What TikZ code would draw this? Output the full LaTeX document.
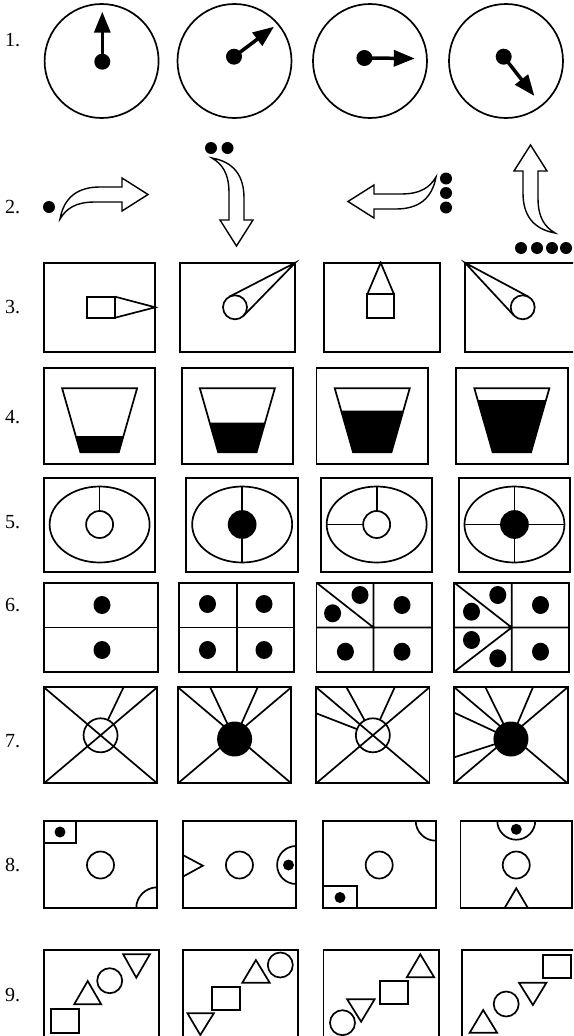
\documentclass[tikz,border=0pt]{standalone}
\usepackage{fontspec}
\setmainfont{Liberation Serif}
\usetikzlibrary{arrows.meta}
\newcommand{\bentarr}[3]{%
  \begin{scope}[shift={(#1,#2)},rotate=#3]
    \draw[line width=1.4pt,fill=white,line join=miter]
      (0,0) .. controls (4,-22) and (18,-32) .. (40,-32) -- (62,-32) -- (62,-41)
      -- (88,-24.5) -- (62,-8) -- (62,-17) -- (35,-17)
      .. controls (15,-17) and (6,-10) .. (0,0) -- cycle;
  \end{scope}}
\newcommand{\mycup}[2]{%
  \pgfmathsetmacro{\hw}{19.2+0.286*(452.3-#2)}%
  \fill (#1-\hw,#2) -- (#1+\hw,#2) -- (#1+19.2,452.3) -- (#1-19.2,452.3) -- cycle;
  \draw[shp] (#1-37.5,388.3) -- (#1+37.5,388.3) -- (#1+19.2,452.3) -- (#1-19.2,452.3) -- cycle;}
\begin{document}
\begin{tikzpicture}[x=1pt,y=-1pt,
  lbl/.style={anchor=west,inner sep=0pt,font=\fontsize{20}{20}\selectfont},
  frame/.style={draw,line width=1.9pt},
  shp/.style={draw,line width=1.7pt},
  hand/.style={line width=3.5pt,-{Triangle[length=21pt,width=16pt]}},
  bdot/.style={fill=black}]
\useasboundingbox (0,0) rectangle (573,1036);
\clip (0,0) rectangle (573,1036);
% labels
\node[lbl] (l1) at (5,40) {1.};
\node[lbl] (l2) at (5,207.5) {2.};
\node[lbl] (l3) at (5,307.5) {3.};
\node[lbl] (l4) at (5,417.5) {4.};
\node[lbl] (l5) at (5,522.5) {5.};
\node[lbl] (l6) at (5,605.5) {6.};
\node[lbl] (l7) at (5,741.5) {7.};
\node[lbl] (l8) at (5,865) {8.};
\node[lbl] (l9) at (5,995) {9.};
% row 1
\foreach \cx in {101.6,234.5,370,506} \draw[shp] (\cx,61) circle[radius=57pt];
\coordinate (h1) at (102.3,61.7); \coordinate (t1) at (102.3,11.7);
\coordinate (h2) at (234,56.7);   \coordinate (t2) at (274,26.7);
\coordinate (h3) at (364.4,58);   \coordinate (t3) at (414.8,58.5);
\coordinate (h4) at (503.7,56.7); \coordinate (t4) at (534.4,96);
\foreach \i in {1,2,3,4} {\fill (h\i) circle[radius=8pt]; \draw[hand] (h\i) -- (t\i);}
% row 2
\fill (49,207) circle[radius=6pt];
\bentarr{60}{219}{0}
\fill (211,148) circle[radius=6pt]; \fill (227.5,148) circle[radius=6pt];
\bentarr{212}{158}{-90}
\foreach \y in {178.5,193,207.5} \fill (446,\y) circle[radius=6pt];
\bentarr{436}{177}{180}
\foreach \x in {521,537,552,566} \fill (\x,248) circle[radius=6pt];
\bentarr{555}{233}{90}
% row 3
\draw[frame] (43.9,262.7) rectangle (155.3,351.7);
\draw[frame] (179.8,262.7) rectangle (295.3,351.7);
\draw[frame] (324.2,262.7) rectangle (439.7,351.7);
\draw[frame] (464.9,262.7) rectangle (580,351.7);
\draw[shp] (87,296.7) rectangle (115.1,317.7);
\draw[shp] (115.1,296.7) -- (155.3,307.3) -- (115.1,317.7);
\draw[shp] (235,307.3) circle[radius=12pt];
\draw[shp] (229.5,296.6) -- (295.3,262.7) -- (243.6,315.7);
\draw[shp] (367.3,294.3) rectangle (394,317.7);
\draw[shp] (367.3,294.3) -- (380.7,262.7) -- (394,294.3);
\draw[shp] (522.7,307.3) circle[radius=12pt];
\draw[shp] (528.4,296.7) -- (464.9,262.7) -- (513.9,315.5);
% row 4
\draw[frame] (43.9,367.7) rectangle (155.3,464.3);
\draw[frame] (181.6,367.7) rectangle (293.1,464.3);
\draw[frame] (316.5,367.7) rectangle (428,464.3);
\draw[frame] (456.1,367.7) rectangle (567.6,464.3);
\mycup{99.6}{436}
\mycup{237.35}{422.7}
\mycup{372.25}{410.7}
\mycup{511.85}{400}
% row 5
\draw[frame] (43.9,478.3) rectangle (155.3,572);
\draw[frame] (186.4,478.3) rectangle (297.9,572);
\draw[frame] (320.9,478.3) rectangle (432.4,572);
\draw[frame] (458.7,478.3) rectangle (570.2,572);
\foreach \cx in {99.6,242.15,376.65,514.45}
  \draw[shp] (\cx,524.5) ellipse[x radius=50pt,y radius=38pt];
\draw[shp] (99.6,511) -- (99.6,486.5);
\draw[shp] (99.6,524.5) circle[radius=13.5pt];
\draw[shp] (242.15,511) -- (242.15,486.5) (242.15,538) -- (242.15,562.5);
\draw[shp,fill=black] (242.15,524.5) circle[radius=13.5pt];
\draw[shp] (376.65,511) -- (376.65,486.5) (363.15,524.5) -- (326.65,524.5);
\draw[shp] (376.65,524.5) circle[radius=13.5pt];
\draw[shp] (514.45,511) -- (514.45,486.5) (514.45,538) -- (514.45,562.5)
  (500.95,524.5) -- (464.45,524.5) (527.95,524.5) -- (564.45,524.5);
\draw[shp,fill=black] (514.45,524.5) circle[radius=13.5pt];
% row 6
\draw[frame] (43.9,582.7) rectangle (158.3,671.7);
\draw[shp] (43.9,627.5) -- (158.3,627.5);
\draw[frame] (179.1,582.7) rectangle (294.2,671.7);
\draw[shp] (179.1,627.5) -- (294.2,627.5) (236.8,582.7) -- (236.8,671.7);
\draw[frame] (316.5,582.7) rectangle (432.4,671.7);
\draw[shp] (316.5,627.5) -- (432.4,627.5) (373.5,582.7) -- (373.5,671.7)
  (316.5,582.7) -- (373.5,627.5);
\draw[frame] (454.3,582.7) rectangle (569.4,671.7);
\draw[shp] (454.3,627.5) -- (569.4,627.5) (511.7,582.7) -- (511.7,671.7)
  (454.3,582.7) -- (511.7,627.5) -- (454.3,671.7);
\foreach \p in {(102,605),(102,650),(207.5,604),(264,604),(207.5,650),(264,650),
  (360,595),(332.6,613.3),(402,605),(345.4,651.7),(402,651.7),
  (497.8,595),(471.5,611.7),(471.5,640),(497.8,658.3),(540.5,605),(540.5,651.7)}
  \fill \p ellipse[x radius=8.5pt,y radius=9pt];
% row 7
\draw[frame] (43.9,687.3) rectangle (157.2,783.3);
\draw[shp] (123.5,687.3) -- (100.55,735.3);
\draw[shp,fill=white] (100.55,735.3) circle[radius=17pt];
\draw[shp] (43.9,687.3) -- (157.2,783.3) (43.9,783.3) -- (157.2,687.3);
\draw[frame] (178,687.3) rectangle (291.3,783.3);
\draw[shp] (178,687.3) -- (291.3,783.3) (178,783.3) -- (291.3,687.3)
  (210.2,687.3) -- (234.6,739) (257.7,687.3) -- (234.6,739);
\fill (234.6,739) circle[radius=17.5pt];
\draw[frame] (316.2,687.3) rectangle (429.5,783.3);
\draw[shp] (346.5,687.3) -- (372.85,735.3) (394.7,687.3) -- (372.85,735.3)
  (316.2,713.3) -- (372.85,735.3);
\draw[shp,fill=white] (372.85,735.3) circle[radius=17pt];
\draw[shp] (316.2,687.3) -- (429.5,783.3) (316.2,783.3) -- (429.5,687.3);
\draw[frame] (454.3,687.3) rectangle (567.6,783.3);
\draw[shp] (454.3,687.3) -- (567.6,783.3) (454.3,783.3) -- (567.6,687.3)
  (485.4,687.3) -- (510.95,739) (532.9,687.3) -- (510.95,739)
  (454.3,712.7) -- (510.95,739) (454.3,757.3) -- (510.95,739);
\fill (510.95,739) circle[radius=17.5pt];
% row 8
\draw[frame] (43.9,820.7) rectangle (157.2,908.3);
\draw[shp] (43.9,820.7) rectangle (76,843.3);
\fill (60,832) circle[radius=5.5pt];
\draw[shp] (100.5,865) circle[radius=13.5pt];
\draw[shp] (136.2,908.3) arc[start angle=180,end angle=90,radius=21pt];
\draw[frame] (182.8,820.7) rectangle (296.1,908.3);
\draw[shp] (182.8,855) -- (202.9,865.7) -- (182.8,876.7);
\draw[shp] (239.45,865) circle[radius=13.5pt];
\draw[shp] (296.1,846) arc[start angle=90,end angle=270,radius=19pt];
\fill (288.5,865) circle[radius=5.5pt];
\draw[frame] (322.7,820.7) rectangle (435.7,908.3);
\draw[shp] (415.7,820.7) arc[start angle=180,end angle=270,radius=20pt];
\draw[shp] (379.2,865) circle[radius=13.5pt];
\draw[shp] (322.7,886) rectangle (357.1,908.3);
\fill (340,897.5) circle[radius=5.5pt];
\draw[frame] (460.5,820.7) rectangle (572,908.3);
\draw[shp] (497.25,820.7) arc[start angle=180,end angle=360,radius=19pt];
\fill (516.25,829.3) circle[radius=5.5pt];
\draw[shp] (516.25,865) circle[radius=13.5pt];
\draw[shp] (504.4,908.3) -- (516.25,888.3) -- (528.1,908.3);
% row 9
\draw[frame] (43.9,950) rectangle (159,1045);
\draw[frame] (182.8,950) rectangle (297.9,1045);
\draw[frame] (323.5,950) rectangle (438.6,1045);
\draw[frame] (462.4,950) rectangle (577.5,1045);
\draw[shp] (51.2,1009.3) rectangle (79.3,1033.3);
\draw[shp] (74.2,1004.3) -- (87.7,981) -- (101.2,1004.3) -- cycle;
\draw[shp] (109.7,980.7) circle[radius=12.5pt];
\draw[shp] (123.2,954.3) -- (136.3,977.7) -- (149.9,954.3) -- cycle;
\draw[shp] (187.5,1013.3) -- (200.3,1035) -- (213.8,1013.3) -- cycle;
\draw[shp] (212,986.7) rectangle (240.1,1010);
\draw[shp] (242.3,982.7) -- (255.9,960) -- (269.7,982.7) -- cycle;
\draw[shp] (280.3,965) circle[radius=12.5pt];
\draw[shp] (342.5,1022.7) circle[radius=12.5pt];
\draw[shp] (347.2,999.3) -- (361.1,1021.7) -- (374.6,999.3) -- cycle;
\draw[shp] (380.1,980.7) rectangle (408.3,1004);
\draw[shp] (406.8,977.3) -- (420.3,954.3) -- (434.2,977.3) -- cycle;
\draw[shp] (469.7,1032.7) -- (483.2,1010) -- (497.1,1032.7) -- cycle;
\draw[shp] (506.2,1004) circle[radius=12.5pt];
\draw[shp] (519,982.7) -- (532.9,1005) -- (546.4,982.7) -- cycle;
\draw[shp] (542.8,955) rectangle (570.9,978.3);
\end{tikzpicture}
\end{document}
